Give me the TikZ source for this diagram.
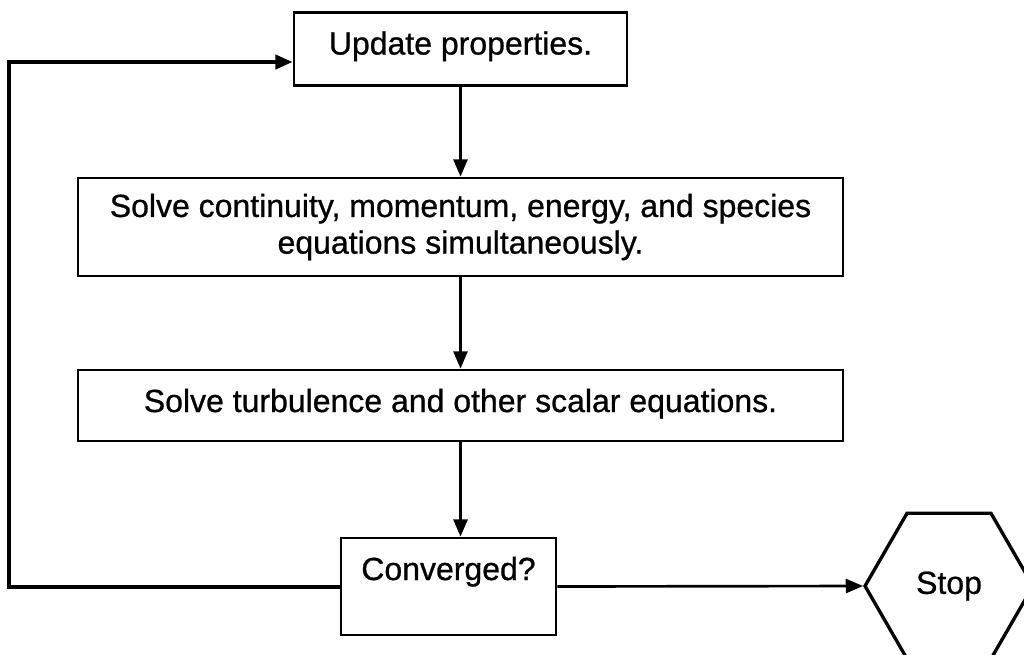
\documentclass[tikz,border=0pt]{standalone}
\usepackage{fontspec}
\setmainfont{Liberation Sans}
\newfontfamily\diagfont[FakeBold=0.8]{Liberation Sans}
\usetikzlibrary{arrows.meta,shapes.geometric}
\begin{document}
\begin{tikzpicture}[x=0.75pt,y=-0.75pt,
  lbl/.style={font=\diagfont\fontsize{24}{27.5}\selectfont},
  box/.style={draw, line width=2pt, inner xsep=0pt, inner ysep=0pt, lbl},
  tip/.style={-{Triangle[length=13pt,width=10.5pt]}},
  flow/.style={line width=2pt, tip},
  back/.style={line width=3pt, tip}]
\fill[white] (0,0) rectangle (1024,654);
\useasboundingbox (0,0) rectangle (1024,654);
\clip (0,0) rectangle (1024,654);
\node[box, minimum width=249.75pt, text height=31.5pt, text depth=23.25pt]
  (update) at (460.5,49) {Update properties.};
\node[box, minimum width=573.75pt, minimum height=73.5pt, align=center]
  (solve) at (460.5,227) {Solve continuity, momentum, energy, and species\\equations simultaneously.};
\node[box, minimum width=573.75pt, text height=31.5pt, text depth=21.75pt]
  (turb) at (460.5,405.5) {Solve turbulence and other scalar equations.};
\node[box, minimum width=161.25pt, text height=31.5pt, text depth=41.25pt]
  (conv) at (448.5,586.5) {Converged?};
\node[draw, line width=2.5pt, regular polygon, regular polygon sides=6,
  minimum size=126pt, inner sep=0pt, lbl]
  (stop) at (949,586) {Stop};
\coordinate (loopx) at (9,0);
\coordinate (entryy) at (0,62);
\draw[flow] (update.south) -- (solve.north);
\draw[flow] (solve.south) -- (turb.north);
\draw[flow] (turb.south) -- (turb.south |- conv.north);
\draw[flow] (conv.east) -- (stop.west);
\draw[back, line join=miter] (conv.west) -- (conv.west -| loopx) -- (loopx |- entryy) -- (update.west |- entryy);
\end{tikzpicture}
\end{document}
